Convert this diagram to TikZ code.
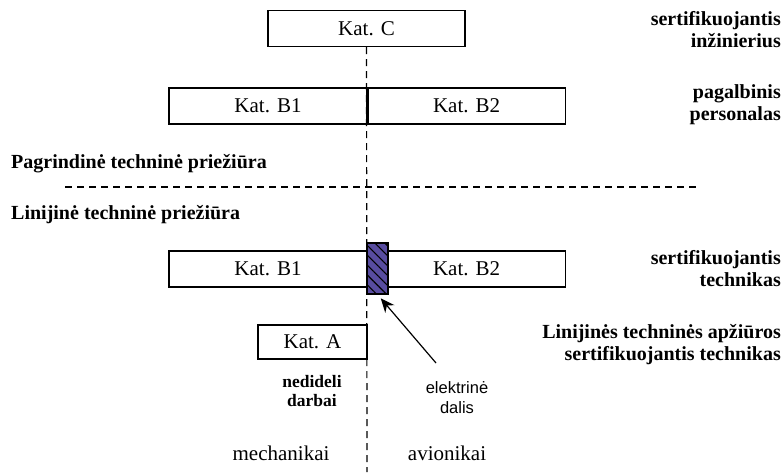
\documentclass[tikz,border=0pt]{standalone}
\usepackage{fontspec}
\setmainfont{Liberation Serif}
\newfontfamily\labelsans{Liberation Sans}
\usetikzlibrary{arrows.meta,patterns.meta,positioning}
\definecolor{elviolet}{RGB}{88,76,160}
\tikzset
{
    katbox/.style    = {draw=black, line width=1.1pt, minimum height=36pt, inner sep=0pt, font=\fontsize{21}{24}\selectfont},
    rolelabel/.style = {align=right, anchor=base east, inner sep=0pt, font=\fontsize{20}{22}\selectfont\bfseries},
    sectlabel/.style = {anchor=base west, inner sep=0pt, font=\fontsize{20}{22}\selectfont\bfseries},
    grouplabel/.style= {anchor=base, inner sep=0pt, font=\fontsize{21}{24}\selectfont},
    divline/.style   = {line width=1.2pt, dash pattern=on 7pt off 5pt}
}

\begin{document}
\begin{tikzpicture}[x=1pt, y=-1pt]
    \useasboundingbox (0,0) rectangle (784,472);

    % categories
    \node [katbox, minimum width=197pt] (katC) at (366.5,28.5) {Kat. C};
    \node [katbox, minimum width=198pt] (b1up) at (268,106) {Kat. B1};
    \node [katbox, minimum width=197pt, right=0pt of b1up] (b2up) {Kat. B2};
    \node [katbox, minimum width=198pt] (b1low) at (268,269) {Kat. B1};
    \node [katbox, minimum width=197pt, right=0pt of b1low] (b2low) {Kat. B2};
    \node [katbox, minimum width=109pt, minimum height=34pt] (katA) at (312.5,342) {Kat. A};

    % electrical part
    \node [draw=black, line width=1.1pt, minimum width=21pt, minimum height=51pt, inner sep=0pt,
           preaction={fill=elviolet}, pattern={Lines[angle=-45, distance=7pt, line width=1.1pt]}]
           (elpart) at (377.5,268.5) {};

    % dividing lines
    \coordinate (vbot) at (367,472);
    \coordinate (hleft) at (65,187);
    \coordinate (hright) at (700,187);
    \draw [divline] (katC.south) -- (vbot);
    \draw [divline] (hleft) -- (hright);

    % labels on the right (base = last line)
    \node [rolelabel] (roleC) at (781,47) {sertifikuojantis\\inžinierius};
    \node [rolelabel] (roleB) at (781,120) {pagalbinis\\personalas};
    \node [rolelabel] (roleT) at (781,286) {sertifikuojantis\\technikas};
    \node [rolelabel] (roleA) at (781,360) {Linijinės techninės apžiūros\\sertifikuojantis technikas};

    % maintenance kinds
    \node [sectlabel] (base) at (11,168) {Pagrindinė techninė priežiūra};
    \node [sectlabel] (line) at (11,219) {Linijinė techninė priežiūra};

    % small notes
    \node [anchor=base, align=center, inner sep=0pt, font=\fontsize{17.5}{19}\selectfont\bfseries]
          (minor) at (312,406) {nedideli\\darbai};
    \node [anchor=base, align=center, inner sep=0pt, font=\labelsans\fontsize{16.5}{20}\selectfont]
          (elnote) at (457,413) {elektrinė\\dalis};
    \coordinate (arrtail) at (436,363);
    \draw [line width=1.2pt, -{Stealth[length=14pt, width=12pt]}, shorten >=5pt] (arrtail) -- (elpart.south);

    % groups
    \node [grouplabel] (mech) at (281,460) {mechanikai};
    \node [grouplabel] (avio) at (447,460) {avionikai};
\end{tikzpicture}
\end{document}
